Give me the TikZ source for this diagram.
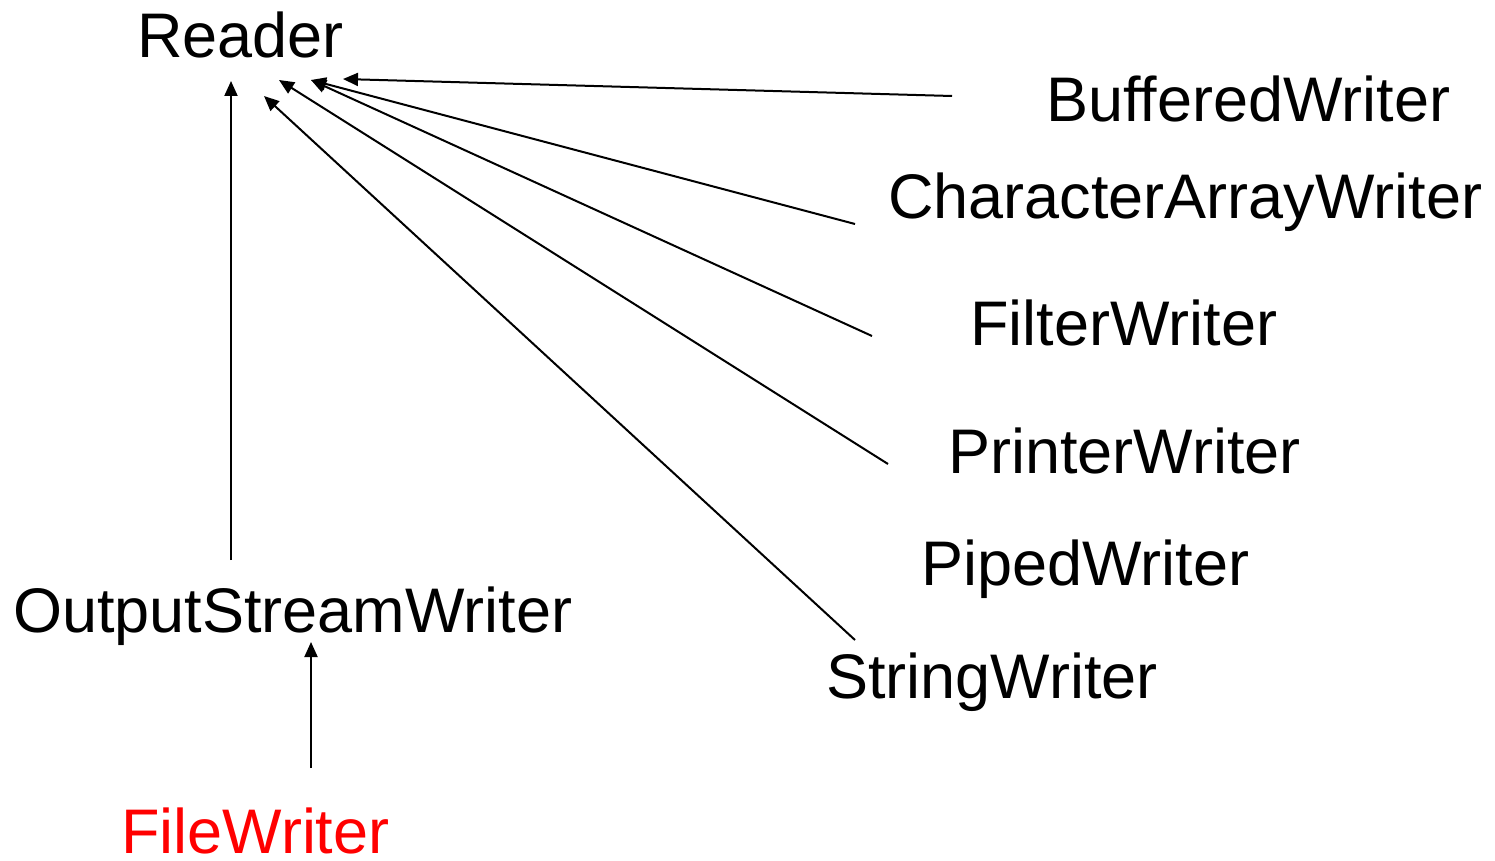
\documentclass[tikz,border=0pt]{standalone}
\usepackage{fontspec}
\setmainfont{Liberation Sans}
\usetikzlibrary{arrows.meta}
\begin{document}
\begin{tikzpicture}[x=1pt,y=-1pt,
  lbl/.style={anchor=base west,inner sep=0pt,font=\fontsize{63}{70}\selectfont},
  inh/.style={line width=2pt,-{Triangle[length=15pt,width=13pt]}}]
\useasboundingbox (0,0) rectangle (1495,861);
\node[lbl] (reader) at (137,58) {Reader};
\node[lbl] (buf) at (1046,122) {BufferedWriter};
\node[lbl] (car) at (888,218) {CharacterArrayWriter};
\node[lbl] (fil) at (970,345) {FilterWriter};
\node[lbl] (pri) at (948,473) {PrinterWriter};
\node[lbl] (pip) at (921,585) {PipedWriter};
\node[lbl] (str) at (826,698) {StringWriter};
\node[lbl] (osw) at (13,632) {OutputStreamWriter};
\node[lbl,text={rgb,255:red,255;green,0;blue,0}] (fw) at (121,853) {FileWriter};
% free ends
\coordinate (bufE) at (952,96);
\coordinate (carE) at (855,224);
\coordinate (filE) at (872,336);
\coordinate (priE) at (888,464);
\coordinate (strE) at (855,640);
\coordinate (oswE) at (231,560);
\coordinate (fwE) at (311,768);
% tips near Reader / OutputStreamWriter
\coordinate (t1) at (231,81);
\coordinate (t2) at (264,96);
\coordinate (t3) at (279,80);
\coordinate (t4) at (311,80);
\coordinate (t5) at (343,79);
\coordinate (t6) at (311,642);
\draw[inh] (bufE) -- (t5);
\draw[inh] (carE) -- (t4);
\draw[inh] (filE) -- (t4);
\draw[inh] (priE) -- (t3);
\draw[inh] (strE) -- (t2);
\draw[inh] (oswE) -- (t1);
\draw[inh] (fwE) -- (t6);
\end{tikzpicture}
\end{document}
